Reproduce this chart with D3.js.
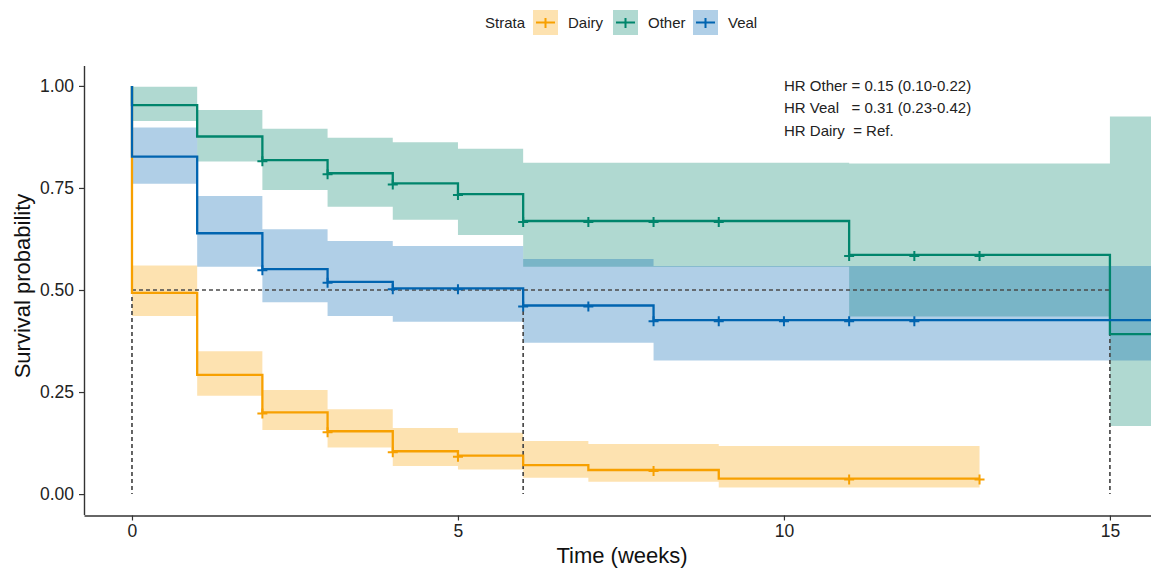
<!DOCTYPE html>
<html>
<head>
<meta charset="utf-8">
<script src="https://cdn.jsdelivr.net/npm/d3@7"></script>
<style>
  body { margin: 0; background: #fff; }
  svg { display: block; font-family: 'Liberation Sans', Arial, sans-serif; }
</style>
</head>
<body>
<div id="chart"></div>
<script>
// Kaplan-Meier estimates (step starts at each time)
const strata = ['Dairy', 'Other', 'Veal'];
const lineColors = ['#F7A000', '#00856C', '#0064B0'];

const dairyTimes = [0, 1, 2, 3, 4, 5, 6, 7, 9];
const dairySurv = [0.493, 0.292, 0.200, 0.154, 0.105, 0.094, 0.071, 0.059, 0.038];
const dairyUpper = [0.560, 0.350, 0.255, 0.208, 0.162, 0.150, 0.130, 0.123, 0.118];
const dairyLower = [0.436, 0.241, 0.157, 0.114, 0.069, 0.060, 0.040, 0.030, 0.016];
const dairyEnd = 13;
const dairyCensor = [2, 3, 4, 5, 8, 11, 13];

const otherTimes = [0, 1, 2, 3, 4, 5, 6, 11, 15];
const otherSurv = [0.953, 0.876, 0.818, 0.786, 0.761, 0.735, 0.669, 0.586, 0.392];
const otherUpper = [0.998, 0.941, 0.895, 0.873, 0.862, 0.846, 0.812, 0.810, 0.925];
const otherLower = [0.914, 0.815, 0.745, 0.704, 0.672, 0.635, 0.557, 0.435, 0.167];
const otherEnd = 16;
const otherCensor = [2, 3, 4, 5, 6, 7, 8, 9, 11, 12, 13];

const vealTimes = [0, 1, 2, 3, 4, 6, 8];
const vealSurv = [0.827, 0.639, 0.551, 0.520, 0.504, 0.462, 0.426];
const vealUpper = [0.898, 0.730, 0.649, 0.620, 0.608, 0.576, 0.559];
const vealLower = [0.760, 0.557, 0.470, 0.436, 0.422, 0.371, 0.327];
const vealEnd = 16;
const vealCensor = [2, 3, 4, 5, 6, 7, 8, 9, 10, 11, 12];

const xTicks = [0, 5, 10, 15];
const yTicks = [0, 0.25, 0.5, 0.75, 1];
const hrLines = ['HR Other = 0.15 (0.10-0.22)', 'HR Veal   = 0.31 (0.23-0.42)', 'HR Dairy  = Ref.'];

const series = [
  { times: dairyTimes, surv: dairySurv, upper: dairyUpper, lower: dairyLower, end: dairyEnd, censor: dairyCensor },
  { times: otherTimes, surv: otherSurv, upper: otherUpper, lower: otherLower, end: otherEnd, censor: otherCensor },
  { times: vealTimes, surv: vealSurv, upper: vealUpper, lower: vealLower, end: vealEnd, censor: vealCensor }
];

const width = 1151;
const height = 571;
const svg = d3.select('#chart').append('svg').attr('width', width).attr('height', height);

const x = d3.scaleLinear().domain([-0.736, 15.63]).range([84, 1151]);
const y = d3.scaleLinear().domain([-0.05, 1.05]).range([514.5, 65.5]);

svg.append('clipPath').attr('id', 'panel')
  .append('rect').attr('x', 84).attr('y', 60).attr('width', width - 84).attr('height', 456);

const plot = svg.append('g').attr('clip-path', 'url(#panel)');

const stepPoints = (s) => {
  const pts = s.times.map((t, i) => ({ t, v: s.surv[i], lo: s.lower[i], hi: s.upper[i] }));
  const last = pts[pts.length - 1];
  pts.push({ t: s.end, v: last.v, lo: last.lo, hi: last.hi });
  return pts;
};

const area = d3.area().curve(d3.curveStepAfter)
  .x((d) => x(d.t)).y0((d) => y(d.lo)).y1((d) => y(d.hi));

const line = d3.line().curve(d3.curveStepAfter)
  .x((d) => x(d.t)).y((d) => y(d.v));

// confidence bands
plot.selectAll('path.band')
  .data(series)
  .join('path')
  .attr('class', 'band')
  .attr('fill', (d, i) => lineColors[i])
  .attr('fill-opacity', 0.31)
  .attr('d', (d) => area(stepPoints(d)));

// median lines
const medians = series.map((s) => s.times[s.surv.findIndex((v) => v <= 0.5)]);
const dash = plot.append('g').attr('stroke', '#4a4a4a').attr('stroke-width', 1.7).attr('stroke-dasharray', '4,3');
dash.append('line')
  .attr('x1', x(0)).attr('x2', x(d3.max(medians)))
  .attr('y1', y(0.5)).attr('y2', y(0.5));
dash.selectAll('line.v')
  .data(medians)
  .join('line')
  .attr('class', 'v')
  .attr('x1', (d) => x(d)).attr('x2', (d) => x(d))
  .attr('y1', y(0.5)).attr('y2', y(0));

// survival curves
plot.selectAll('path.curve')
  .data(series)
  .join('path')
  .attr('class', 'curve')
  .attr('fill', 'none')
  .attr('stroke', (d, i) => lineColors[i])
  .attr('stroke-width', 2.3)
  .attr('d', (d) => line([{ t: d.times[0], v: 1 }].concat(stepPoints(d))));

// censoring marks
const survAt = (s, t) => s.surv[d3.bisectRight(s.times, t) - 1];
series.forEach((s, i) => {
  plot.append('g')
    .selectAll('path')
    .data(s.censor)
    .join('path')
    .attr('stroke', lineColors[i])
    .attr('stroke-width', 2)
    .attr('fill', 'none')
    .attr('d', (t) => {
      const cx = x(t);
      const cy = y(survAt(s, t));
      return `M${cx - 5},${cy + 1}H${cx + 5}M${cx},${cy - 4}V${cy + 6}`;
    });
});

// axes
const xAxis = svg.append('g')
  .attr('transform', `translate(0,${515.5})`)
  .call(d3.axisBottom(x).tickValues(xTicks).tickSize(5).tickSizeOuter(0).tickPadding(4));
const yAxis = svg.append('g')
  .attr('transform', 'translate(84,0)')
  .call(d3.axisLeft(y).tickValues(yTicks).tickFormat(d3.format('.2f')).tickSize(5).tickSizeOuter(0).tickPadding(5));

[xAxis, yAxis].forEach((a) => {
  a.select('.domain').attr('stroke', '#333').attr('stroke-width', 1.4);
  a.selectAll('.tick line').attr('stroke', '#333').attr('stroke-width', 1.2);
  a.selectAll('.tick text').attr('fill', '#222').attr('font-size', 17.5).attr('font-family', null);
});

svg.append('text')
  .attr('x', 622).attr('y', 563)
  .attr('text-anchor', 'middle')
  .attr('font-size', 22)
  .attr('fill', '#111')
  .text('Time (weeks)');

svg.append('text')
  .attr('transform', 'translate(30,286) rotate(-90)')
  .attr('text-anchor', 'middle')
  .attr('font-size', 22)
  .attr('fill', '#111')
  .text('Survival probability');

// hazard ratio annotation
svg.append('g')
  .selectAll('text')
  .data(hrLines)
  .join('text')
  .attr('x', 784)
  .attr('y', (d, i) => 90.5 + i * 22.5)
  .attr('font-size', 15)
  .attr('fill', '#222')
  .style('white-space', 'pre')
  .attr('xml:space', 'preserve')
  .text((d) => d);

// legend
const legend = svg.append('g').attr('font-size', 15).attr('fill', '#222');
legend.append('text').attr('x', 485).attr('y', 27.5).text('Strata');
const keyX = [533, 613, 693];
strata.forEach((name, i) => {
  const k = legend.append('g').attr('transform', `translate(${keyX[i]},10)`);
  k.append('rect').attr('width', 25).attr('height', 25)
    .attr('fill', lineColors[i]).attr('fill-opacity', 0.31);
  k.append('path')
    .attr('stroke', lineColors[i]).attr('stroke-width', 2).attr('fill', 'none')
    .attr('d', 'M3,12.5H22M12.5,8V18');
  legend.append('text').attr('x', keyX[i] + 35).attr('y', 27.5).text(name);
});
</script>
</body>
</html>
